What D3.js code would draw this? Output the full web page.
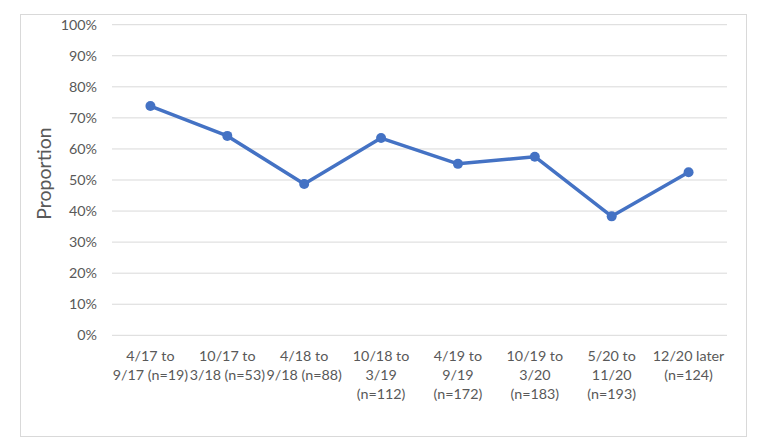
<!DOCTYPE html>
<html><head><meta charset="utf-8">
<script src="https://cdn.jsdelivr.net/npm/d3@7"></script>
<style>body{margin:0;background:#fff;}svg{display:block;}</style>
</head><body>
<svg id="c" width="762" height="446"></svg>
<script>
const categories = [
  ["4/17 to","9/17 (n=19)"],
  ["10/17 to","3/18 (n=53)"],
  ["4/18 to","9/18 (n=88)"],
  ["10/18 to","3/19","(n=112)"],
  ["4/19 to","9/19","(n=172)"],
  ["10/19 to","3/20","(n=183)"],
  ["5/20 to","11/20","(n=193)"],
  ["12/20 later","(n=124)"]
];
const values = [0.738, 0.642, 0.487, 0.635, 0.552, 0.575, 0.383, 0.525];
const yTicks = [0,0.1,0.2,0.3,0.4,0.5,0.6,0.7,0.8,0.9,1.0];
const yLabel = "Proportion";

const svg = d3.select("#c");
const font = "Lato, 'Open Sans', sans-serif";
svg.append("rect").attr("x",20.5).attr("y",14.5).attr("width",726).attr("height",422)
  .attr("fill","#fff").attr("stroke","#d9d9d9").attr("stroke-width",1);

const L=112, R=727, T=24.7, B=335.3;
const x = d3.scaleBand().domain(d3.range(categories.length)).range([L,R]);
const y = d3.scaleLinear().domain([0,1]).range([B,T]);

const g = svg.append("g");
g.selectAll("line.grid").data(yTicks).join("line").attr("class","grid")
  .attr("x1",L).attr("x2",R).attr("y1",d=>y(d)).attr("y2",d=>y(d))
  .attr("stroke","#d9d9d9").attr("stroke-width",1);

g.selectAll("text.yt").data(yTicks).join("text").attr("class","yt")
  .attr("x",97).attr("y",d=>y(d)).attr("dy","0.35em").attr("text-anchor","end")
  .attr("font-family",font).attr("font-size",14.3).attr("fill","#595959")
  .text(d=>d3.format(".0%")(d));

const xt = g.selectAll("text.xt").data(categories).join("text").attr("class","xt")
  .attr("text-anchor","middle").attr("font-family",font).attr("font-size",14.3).attr("fill","#595959");
xt.each(function(d,i){
  const t=d3.select(this);
  d.forEach((line,j)=>{
    t.append("tspan").attr("x",x(i)+x.bandwidth()/2).attr("y",361+j*19.2).text(line);
  });
});

svg.append("text").attr("transform","translate(50.5,173.5) rotate(-90)")
  .attr("text-anchor","middle").attr("font-family",font).attr("font-size",19.5).attr("fill","#595959")
  .text(yLabel);

const line = d3.line().x((d,i)=>x(i)+x.bandwidth()/2).y(d=>y(d));
g.append("path").datum(values).attr("d",line).attr("fill","none")
  .attr("stroke","#4472C4").attr("stroke-width",3.5).attr("stroke-linejoin","round");
g.selectAll("circle").data(values).join("circle")
  .attr("cx",(d,i)=>x(i)+x.bandwidth()/2).attr("cy",d=>y(d)).attr("r",5)
  .attr("fill","#4472C4");
</script>
</body></html>
